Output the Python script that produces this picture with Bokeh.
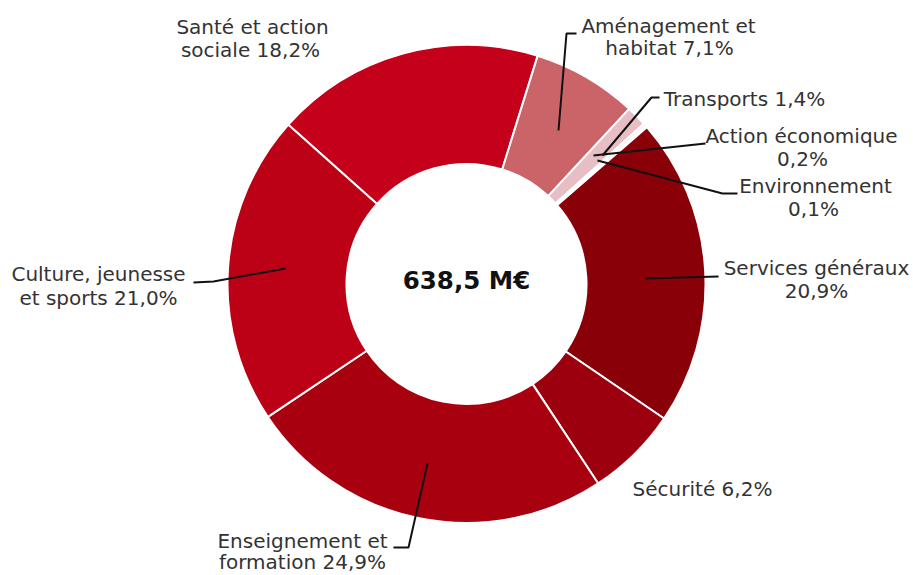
import math
from bokeh.plotting import figure
from bokeh.models import Range1d, ColumnDataSource
from bokeh.core.properties import value
from bokeh.embed import file_html
from bokeh.resources import INLINE

# ---- data (clockwise order, starting with "Santé et action sociale") ----
categories = ["Santé et action sociale", "Aménagement et habitat", "Transports",
              "Action économique", "Environnement", "Services généraux",
              "Sécurité", "Enseignement et formation", "Culture, jeunesse et sports"]
shares = [18.2, 7.1, 1.4, 0.2, 0.1, 20.9, 6.2, 24.9, 21.0]
colors = ["#C5001A", "#CB6468", "#E6BEC3", "#F6E8EA", "#E6BEC3",
          "#8A0008", "#9C000E", "#A9000F", "#BC0016"]
label_lines = [["Santé et action", "sociale 18,2%"],
               ["Aménagement et", "habitat 7,1%"],
               ["Transports 1,4%"],
               ["Action économique", "0,2%"],
               ["Environnement", "0,1%"],
               ["Services généraux", "20,9%"],
               ["Sécurité 6,2%"],
               ["Enseignement et", "formation 24,9%"],
               ["Culture, jeunesse", "et sports 21,0%"]]
total_label = "638,5 M€"

# ---- layout (image pixel coordinates) ----
W, H = 913, 575
CX, CY = 466, 283.5
R_OUT, R_IN = 239, 120
START_BEARING = 311.8  # degrees clockwise from 12 o'clock

def Y(y):
    return H - y

label_pos = [[(252, 26), (250, 49)],
             [(668, 25), (669, 47)],
             [(744, 98)],
             [(801, 135), (802, 158)],
             [(815, 185), (813, 208)],
             [(816, 267), (816, 290)],
             [(702, 488)],
             [(302, 540), (302, 561)],
             [(98, 273), (98, 297)]]
leaders = [
    None,
    [(558, 130), (566, 33), (576, 33)],
    [(602, 155), (651, 97), (659, 97)],
    [(593, 155), (705, 143)],
    [(597, 160), (722, 193), (737, 193)],
    [(645, 278), (718, 276)],
    None,
    [(427, 463), (408, 547), (393, 547)],
    [(285, 268), (213, 281), (193, 282)],
]

# ---- wedges from data ----
tot = sum(shares)
starts, ends = [], []
b = START_BEARING
for s in shares:
    b2 = b + s / tot * 360.0
    starts.append(math.radians(90 - b))
    ends.append(math.radians(90 - b2))
    b = b2

p = figure(width=W, height=H, output_backend="svg", toolbar_location=None,
           x_range=Range1d(0, W), y_range=Range1d(0, H),
           min_border=0, outline_line_color=None)
p.axis.visible = False
p.grid.visible = False
p.background_fill_color = "white"
p.border_fill_color = "white"

src = ColumnDataSource(dict(cat=categories, share=shares, start=starts, end=ends, color=colors))
p.annular_wedge(x=CX, y=Y(CY), inner_radius=R_IN, outer_radius=R_OUT,
                start_angle="start", end_angle="end", direction="clock",
                fill_color="color", line_color="white", line_width=2, source=src)

# leader lines
xs, ys = [], []
for ld in leaders:
    if ld:
        xs.append([pt[0] for pt in ld])
        ys.append([Y(pt[1]) for pt in ld])
p.multi_line(xs=xs, ys=ys, line_color="#111111", line_width=2)

# labels
tx, ty, tt = [], [], []
for lines, poss in zip(label_lines, label_pos):
    for t, (x, y) in zip(lines, poss):
        tx.append(x); ty.append(Y(y)); tt.append(t)
p.text(x=tx, y=ty, text=tt, text_align="center", text_baseline="middle",
       text_font=value("DejaVu Sans"), text_font_size="20px", text_color="#333333")

p.text(x=[CX], y=[Y(280)], text=[total_label], text_align="center", text_baseline="middle",
       text_font=value("DejaVu Sans"), text_font_size="24.5px", text_font_style="bold",
       text_color="#111111")

open("out.html", "w").write(file_html(p, INLINE))
